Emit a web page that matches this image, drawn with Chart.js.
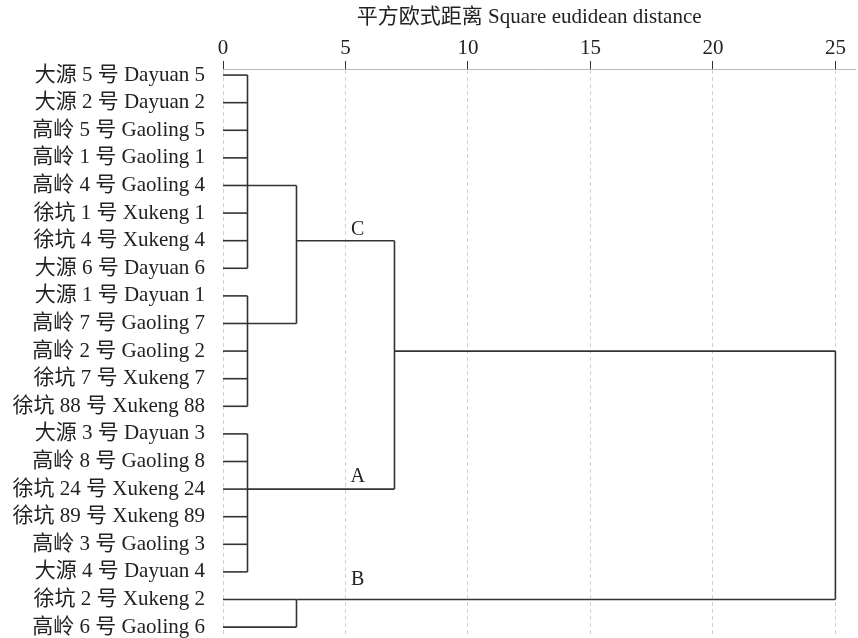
<!DOCTYPE html>
<html>
<head>
<meta charset="utf-8">
<script src="https://cdn.jsdelivr.net/npm/chart.js@4"></script>
<style>
  body { margin: 0; background: #fff; }
  #wrap { width: 858px; height: 638px; }
</style>
</head>
<body>
<div id="wrap"><canvas id="dendro"></canvas></div>
<script>
// leaves, top to bottom
const leafLabels = [
    '大源 5 号 Dayuan 5', '大源 2 号 Dayuan 2', '高岭 5 号 Gaoling 5', '高岭 1 号 Gaoling 1',
    '高岭 4 号 Gaoling 4', '徐坑 1 号 Xukeng 1', '徐坑 4 号 Xukeng 4', '大源 6 号 Dayuan 6',
    '大源 1 号 Dayuan 1', '高岭 7 号 Gaoling 7', '高岭 2 号 Gaoling 2', '徐坑 7 号 Xukeng 7',
    '徐坑 88 号 Xukeng 88', '大源 3 号 Dayuan 3', '高岭 8 号 Gaoling 8', '徐坑 24 号 Xukeng 24',
    '徐坑 89 号 Xukeng 89', '高岭 3 号 Gaoling 3', '大源 4 号 Dayuan 4', '徐坑 2 号 Xukeng 2',
    '高岭 6 号 Gaoling 6'
];

// linkage: members are leaf indexes (numbers) or earlier nodes ('n0'...)
const nodeMembers = [
    [0, 1, 2, 3, 4, 5, 6, 7],
    [8, 9, 10, 11, 12],
    [13, 14, 15, 16, 17, 18],
    ['n0', 'n1'],
    [19, 20],
    ['n3', 'n2'],
    ['n5', 'n4']
];
const nodeDist = [1, 1, 1, 3, 3, 7, 25];
const nodeRow = [4, 9, 15, 6, 19, 10, null];   // row the link leaves from

// cluster tags
const tagNames = ['C', 'A', 'B'];
const tagX = [5.5, 5.5, 5.5];
const tagRow = [5.6, 14.55, 18.3];

const xTicks = [0, 5, 10, 15, 20, 25];
const axisTitle = '平方欧式距离 Square eudidean distance';

const FONT = "'Liberation Serif', 'Noto Sans CJK SC', serif";
const LINE = '#333';

const segments = [];
const seg = (x1, y1, x2, y2) => segments.push([{x: x1, y: y1}, {x: x2, y: y2}]);

nodeMembers.forEach((members, i) => {
    const rows = [];
    members.forEach(m => {
        if (typeof m === 'number') {
            seg(0, m, nodeDist[i], m);
            rows.push(m);
        } else {
            const j = parseInt(m.slice(1));
            seg(nodeDist[j], nodeRow[j], nodeDist[i], nodeRow[j]);
            rows.push(nodeRow[j]);
        }
    });
    seg(nodeDist[i], Math.min(...rows), nodeDist[i], Math.max(...rows));
});

// cluster letters + the axis title centred over the tick range
const textPlugin = {
    id: 'texts',
    afterDatasetsDraw(chart) {
        const c = chart.ctx;
        const xs = chart.scales.x, ys = chart.scales.y;
        c.save();
        c.fillStyle = '#222';
        c.textAlign = 'center';
        c.textBaseline = 'middle';
        c.font = '20px ' + FONT;
        tagNames.forEach((t, k) => {
            c.fillText(t, xs.getPixelForValue(tagX[k]), ys.getPixelForValue(tagRow[k]));
        });
        c.font = '21px ' + FONT;
        const mid = (xTicks[0] + xTicks[xTicks.length - 1]) / 2;
        c.fillText(axisTitle, xs.getPixelForValue(mid), 17);
        c.restore();
    }
};

new Chart(document.getElementById('dendro'), {
    type: 'scatter',
    data: {
        datasets: segments.map(s => ({
            data: s,
            showLine: true,
            borderColor: LINE,
            borderWidth: 1.6,
            pointRadius: 0,
            pointHoverRadius: 0,
            fill: false
        }))
    },
    options: {
        responsive: true,
        maintainAspectRatio: false,
        animation: false,
        layout: { padding: { left: 0, right: 3, bottom: 4, top: 30 } },
        plugins: {
            legend: { display: false },
            tooltip: { enabled: false }
        },
        scales: {
            x: {
                type: 'linear',
                position: 'top',
                min: 0,
                max: 25.8,
                afterBuildTicks: s => { s.ticks = xTicks.map(v => ({value: v})); },
                afterFit: s => { s.height = 39; },
                ticks: {
                    color: '#222',
                    font: { family: FONT, size: 21 },
                    padding: 0
                },
                grid: {
                    color: '#cfcfcf',
                    borderDash: [5, 4],
                    tickColor: '#333',
                    tickBorderDash: [],
                    tickLength: 8,
                    lineWidth: 1
                },
                border: { display: true, color: '#b8b8b8', dash: [4, 3] }
            },
            y: {
                type: 'linear',
                reverse: true,
                min: -0.22,
                max: 20.25,
                afterBuildTicks: s => { s.ticks = leafLabels.map((l, i) => ({value: i})); },
                afterFit: s => { s.width = 223; s.paddingTop = 0; s.paddingBottom = 0; },
                ticks: {
                    color: '#222',
                    font: { family: FONT, size: 21 },
                    padding: 18,
                    callback: v => leafLabels[v]
                },
                grid: { display: false, drawTicks: false },
                border: { display: false }
            }
        }
    },
    plugins: [textPlugin]
});
</script>
</body>
</html>
